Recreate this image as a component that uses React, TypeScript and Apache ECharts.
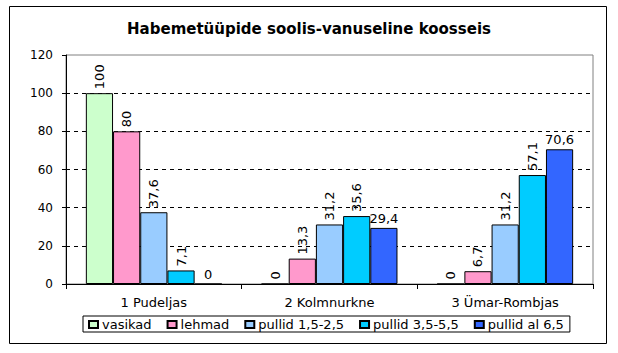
import React, { useEffect, useRef } from "react";
import * as echarts from "echarts";

const categories = ["1 Pudeljas", "2 Kolmnurkne", "3 Ümar-Rombjas"];
const seriesNames = ["vasikad", "lehmad", "pullid 1,5-2,5", "pullid 3,5-5,5", "pullid al 6,5"];
const vasikad = [100, 0, 0];
const lehmad = [80, 13.3, 6.7];
const pullid1 = [37.6, 31.2, 31.2];
const pullid2 = [7.1, 35.6, 57.1];
const pullid3 = [0, 29.4, 70.6];
const colors = ["#CCFFCC", "#FF99CC", "#99CCFF", "#00CCFF", "#3366FF"];
const yTicks = [0, 20, 40, 60, 80, 100, 120];

const FONT = "DejaVu Sans";

export default function App() {
  const ref = useRef<HTMLDivElement>(null);
  useEffect(() => {
    if (!ref.current) return;
    const chart = echarts.init(ref.current, undefined, { renderer: "svg" });
    const allData = [vasikad, lehmad, pullid1, pullid2, pullid3];
    const fmt = (p: any) => String(p.value).replace(".", ",");
    chart.setOption({
      animation: false,
      backgroundColor: "#ffffff",
      title: {
        text: "Habemetüüpide soolis-vanuseline koosseis",
        left: "center",
        top: 16,
        textStyle: { fontFamily: FONT, fontSize: 15, fontWeight: "bold", color: "#000" },
      },
      graphic: [
        {
          type: "rect",
          shape: { x: 9.5, y: 6.5, width: 597, height: 337 },
          style: { fill: "none", stroke: "#000", lineWidth: 1 },
          silent: true,
        },
      ],
      grid: {
        left: 66,
        top: 55,
        right: 25,
        bottom: 69,
        show: true,
        borderColor: "#808080",
        borderWidth: 1,
        containLabel: false,
      },
      legend: {
        data: seriesNames,
        left: 83,
        top: 316,
        orient: "horizontal",
        selectedMode: false,
        borderColor: "#000",
        borderWidth: 1,
        borderRadius: 0,
        padding: [2, 6, 1, 5],
        itemWidth: 9,
        itemHeight: 7,
        itemGap: 15,
        icon: "rect",
        textStyle: { fontFamily: FONT, fontSize: 13, color: "#000", padding: [0, 0, 0, -1] },
      },
      xAxis: {
        type: "category",
        data: categories,
        boundaryGap: true,
        axisLine: { show: true, lineStyle: { color: "#000", width: 1 } },
        axisTick: { show: true, interval: 0, length: 5, lineStyle: { color: "#000" } },
        axisLabel: { fontFamily: FONT, fontSize: 13, color: "#000", margin: 12, interval: 0 },
        splitLine: { show: false },
      },
      yAxis: {
        type: "value",
        min: 0,
        max: 120,
        interval: 20,
        axisLine: { show: true, lineStyle: { color: "#000", width: 1 } },
        axisTick: { show: true, length: 4, lineStyle: { color: "#000" } },
        axisLabel: {
          fontFamily: FONT,
          fontSize: 12,
          color: "#000",
          margin: 13,
          formatter: (v: number) => (yTicks.includes(v) ? String(v) : ""),
        },
        splitLine: {
          show: true,
          showMinLine: false,
          showMaxLine: false,
          lineStyle: { color: "#000", type: [4, 4], width: 1 },
        },
      },
      series: seriesNames.map((name, i) => ({
        name,
        type: "bar",
        data: allData[i],
        barGap: "0%",
        barCategoryGap: "22.6%",
        itemStyle: { color: colors[i], borderColor: "#000", borderWidth: 1 },
        label:
          i < 4
            ? {
                show: true,
                position: "top",
                rotate: 90,
                align: "left",
                verticalAlign: "middle",
                distance: 4,
                fontFamily: FONT,
                fontSize: 13,
                color: "#000",
                formatter: fmt,
              }
            : {
                show: true,
                position: "top",
                distance: 3,
                fontFamily: FONT,
                fontSize: 13,
                color: "#000",
                formatter: fmt,
              },
      })),
    });
    return () => chart.dispose();
  }, []);
  return (
    <div
      ref={ref}
      style={{ position: "fixed", left: 0, top: 0, width: 618, height: 353 }}
    />
  );
}
